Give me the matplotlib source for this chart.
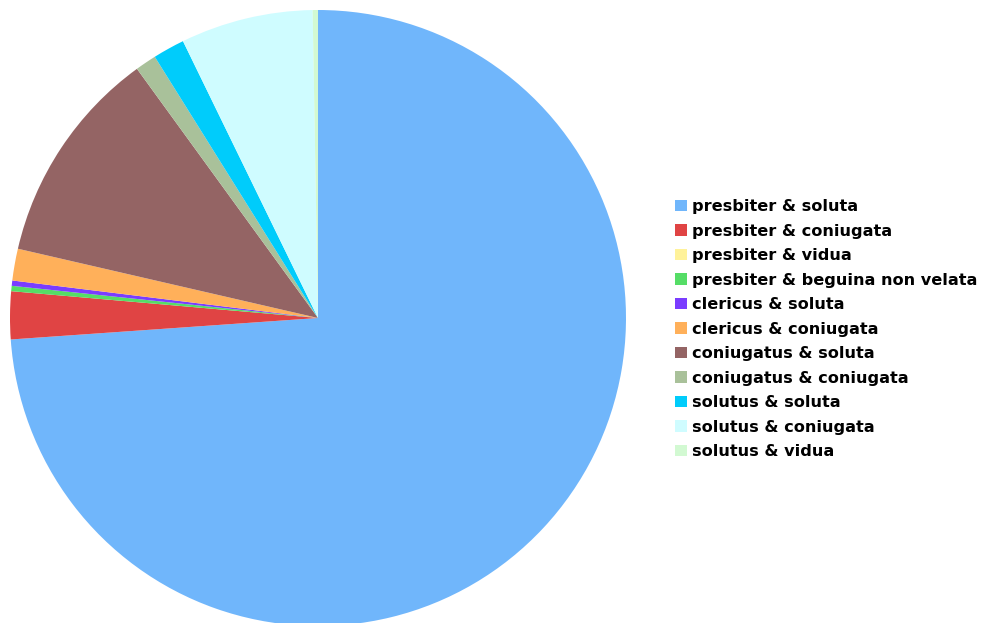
import matplotlib
matplotlib.use("Agg")
import matplotlib.pyplot as plt

# slice counts (clockwise from the top)
labels = [
    "presbiter & soluta",
    "presbiter & coniugata",
    "presbiter & vidua",
    "presbiter & beguina non velata",
    "clericus & soluta",
    "clericus & coniugata",
    "coniugatus & soluta",
    "coniugatus & coniugata",
    "solutus & soluta",
    "solutus & coniugata",
    "solutus & vidua",
]
counts = [266, 9, 0, 1, 1, 6, 41, 4, 6, 25, 1]
colors = [
    "#70b6fb", "#e04444", "#fff29a", "#55dd66", "#7a3cff", "#ffb05a",
    "#946464", "#a9c19a", "#00ccfb", "#cffcff", "#d2f9d2",
]

fig = plt.figure(figsize=(9.82, 6.23), dpi=100)
W, H = 982, 623
cx, cy, r = 318, 318, 308
ax = fig.add_axes([(cx - r) / W, (H - cy - r) / H, 2 * r / W, 2 * r / H])
wedges, _ = ax.pie(counts, colors=colors, startangle=90, counterclock=False,
                   radius=1, wedgeprops=dict(linewidth=0))
ax.set_xlim(-1, 1)
ax.set_ylim(-1, 1)
ax.axis("off")

leg = fig.legend(wedges, labels, loc="upper left",
                 bbox_to_anchor=(675 / W, 1 - 199 / H),
                 frameon=False, prop=dict(weight="bold", size=11.6),
                 handlelength=0.74, handleheight=0.74, handletextpad=0.3,
                 labelspacing=0.59, borderaxespad=0, borderpad=0)

fig.savefig("out.png", dpi=100)
